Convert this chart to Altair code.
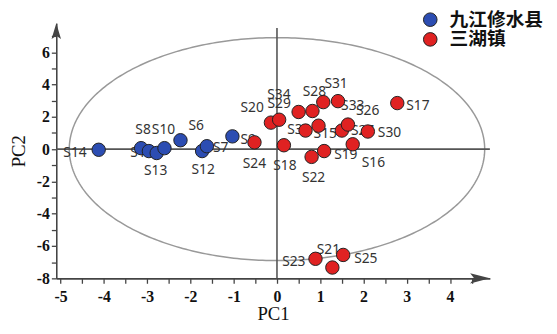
import altair as alt
import pandas as pd
import numpy as np

# ---------------- data ----------------
groups = ["九江修水县", "三湖镇"]

blue_labels = ["S14", "S8", "S11", "S13", "S10", "S6", "S12", "S7", "S9"]
blue_pc1 = [-4.12, -3.14, -2.96, -2.78, -2.60, -2.23, -1.73, -1.62, -1.03]
blue_pc2 = [-0.04, 0.06, -0.12, -0.24, 0.06, 0.55, -0.12, 0.18, 0.79]

red_labels = ["S24", "S20", "S29", "S34", "S18", "S28", "S31", "S33", "S32", "S15",
              "S22", "S19", "S27", "S26", "S16", "S30", "S17", "S23", "S25", "S21"]
red_pc1 = [-0.52, -0.14, 0.05, 0.50, 0.16, 0.82, 1.07, 1.41, 0.96, 0.66,
           0.80, 1.09, 1.50, 1.64, 1.75, 2.10, 2.78, 0.89, 1.53, 1.28]
red_pc2 = [0.42, 1.64, 1.82, 2.30, 0.24, 2.36, 2.91, 2.97, 1.45, 1.15,
           -0.48, -0.12, 1.15, 1.52, 0.30, 1.09, 2.85, -6.79, -6.55, -7.33]

# confidence ellipse parameters (centre, semi-axes)
ell_center = (0.0, 0.0)
ell_a, ell_b = 4.8, 6.9

# ---------------- layout / style ----------------
W, H = 440, 259
X_DOM = [-5.1, 4.92]
Y_DOM = [-8.0, 7.8]
px_x = W / (X_DOM[1] - X_DOM[0])
px_y = H / (Y_DOM[1] - Y_DOM[0])

# label offsets in pixels (dx, dy) relative to each point
label_offsets = {
    "S14": (-24, 3), "S8": (2, -18), "S11": (-7, 2), "S13": (-1, 18), "S10": (-1, -18),
    "S6": (16, -14), "S12": (1, 19), "S7": (14, 2), "S9": (16, 4),
    "S24": (0, 22), "S20": (-19, -15), "S29": (0, -16), "S34": (-20, -17), "S18": (1, 21),
    "S28": (2, -19), "S31": (13, -18), "S33": (15, 5), "S32": (-20, 4), "S15": (20, 4),
    "S22": (2, 21), "S19": (22, 4), "S27": (21, 1), "S26": (20, -14), "S16": (21, 19),
    "S30": (22, 2), "S17": (21, 3), "S23": (-22, 3), "S25": (23, 4), "S21": (-4, -18),
}

BLUE = "#2C4DB2"
RED = "#E02222"

rows = []
for lab, x, y in zip(blue_labels, blue_pc1, blue_pc2):
    rows.append({"label": lab, "PC1": x, "PC2": y, "group": groups[0]})
for lab, x, y in zip(red_labels, red_pc1, red_pc2):
    rows.append({"label": lab, "PC1": x, "PC2": y, "group": groups[1]})
df = pd.DataFrame(rows)
df["lx"] = [r["PC1"] + label_offsets[r["label"]][0] / px_x for r in rows]
df["ly"] = [r["PC2"] - label_offsets[r["label"]][1] / px_y for r in rows]

t = np.linspace(0, 2 * np.pi, 361)
ell = pd.DataFrame({
    "x": ell_center[0] + ell_a * np.cos(t),
    "y": ell_center[1] + ell_b * np.sin(t),
    "o": np.arange(len(t)),
})

xs = alt.Scale(domain=X_DOM, nice=False, zero=False)
ys = alt.Scale(domain=Y_DOM, nice=False, zero=False)

x_minor = [v / 2 for v in range(-10, 10)]
y_minor = list(range(-8, 8))

X_AXIS = alt.Axis(values=x_minor,
                  labelExpr="datum.value % 1 === 0 ? (datum.value < 0 ? '-' + abs(datum.value) : '' + datum.value) : ''")
Y_AXIS = alt.Axis(values=y_minor,
                  labelExpr="datum.value % 2 === 0 ? (datum.value < 0 ? '-' + abs(datum.value) : '' + datum.value) : ''")


def X(field):
    return alt.X(field, scale=xs, axis=X_AXIS, title="PC1")


def Y(field):
    return alt.Y(field, scale=ys, axis=Y_AXIS, title="PC2")


ellipse = alt.Chart(ell).mark_line(color="#999999", strokeWidth=1.5).encode(
    x=X("x:Q"), y=Y("y:Q"), order="o:Q",
)

zero_df = pd.DataFrame({
    "x": [X_DOM[0], 0.0], "x2": [X_DOM[1], 0.0],
    "y": [0.0, Y_DOM[0]], "y2": [0.0, 7.5],
})
zero_lines = alt.Chart(zero_df).mark_rule(color="#555555", strokeWidth=1.6).encode(
    x=X("x:Q"), x2="x2:Q", y=Y("y:Q"), y2="y2:Q",
)

labels = alt.Chart(df).mark_text(
    font="Noto Sans", fontSize=14, color="#333333", baseline="middle", align="center"
).encode(
    x=X("lx:Q"), y=Y("ly:Q"), text="label:N",
)

points = alt.Chart(df).mark_circle(
    size=185, opacity=1, stroke="#222222", strokeWidth=1
).encode(
    x=X("PC1:Q"), y=Y("PC2:Q"),
    color=alt.Color("group:N", scale=alt.Scale(domain=groups, range=[BLUE, RED]),
                    legend=alt.Legend(title=None, orient="none", legendX=370, legendY=-13,
                                      symbolType="circle", symbolSize=190,
                                      symbolStrokeColor="#222222", symbolStrokeWidth=1,
                                      symbolOpacity=1,
                                      labelFont="Noto Sans CJK SC", labelFontSize=19,
                                      labelFontWeight="bold", labelColor="#111111",
                                      labelOffset=10, rowPadding=-1, padding=0)),
)

arrow_x = alt.Chart(pd.DataFrame({"x": [X_DOM[1]], "y": [Y_DOM[0]]})).mark_point(
    shape="M0,0 L-1,-0.26 L-0.8,0 L-1,0.26 Z", size=1600, filled=True,
    color="#444444", opacity=1, strokeWidth=0
).encode(x=X("x:Q"), y=Y("y:Q"))

arrow_y = alt.Chart(pd.DataFrame({"x": [X_DOM[0]], "y": [Y_DOM[1]]})).mark_point(
    shape="M0,0 L-0.3,1 L0,0.8 L0.3,1 Z", size=1024, filled=True,
    color="#444444", opacity=1, strokeWidth=0
).encode(x=X("x:Q"), y=Y("y:Q"))

chart = alt.layer(ellipse, zero_lines, labels, points, arrow_x, arrow_y).properties(
    width=W, height=H,
    autosize=alt.AutoSizeParams(type="none"),
    padding={"left": 49, "top": 13, "right": 60, "bottom": 46},
).configure_view(stroke=None).configure_axis(
    grid=False, domainColor="#444444", domainWidth=1.6, tickColor="#444444",
    tickWidth=1.3, tickSize=5,
    labelFont="Liberation Serif", labelFontSize=16, labelFontWeight="bold", labelColor="#111111",
    titleFont="Liberation Serif", titleFontSize=19, titleFontWeight="normal", titleColor="#111111",
).configure_axisX(labelPadding=5, titlePadding=1, labelFlush=False, labelOverlap=False).configure_axisY(
    labelPadding=2, titlePadding=8, labelOverlap=False
)

chart.save("out.html", embed_options={"renderer": "svg", "actions": False})
